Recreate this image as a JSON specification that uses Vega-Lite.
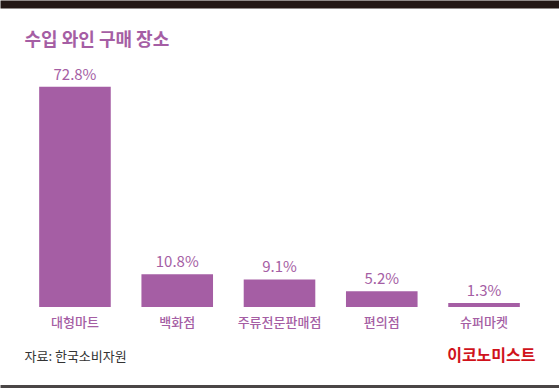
{
  "$schema": "https://vega.github.io/schema/vega-lite/v6.json",
  "width": 559,
  "height": 242,
  "autosize": {"type": "none"},
  "padding": {"top": 65, "left": 0, "right": 0, "bottom": 81},
  "background": "white",
  "config": {
    "view": {"stroke": null},
    "font": "Noto Sans CJK KR"
  },
  "data": {
    "values": [
      {"place": "대형마트", "value": 0.728},
      {"place": "백화점", "value": 0.108},
      {"place": "주류전문판매점", "value": 0.091},
      {"place": "편의점", "value": 0.052},
      {"place": "슈퍼마켓", "value": 0.013}
    ]
  },
  "layer": [
    {
      "mark": {"type": "bar", "color": "#a55ea4"},
      "encoding": {
        "x": {
          "field": "place",
          "type": "nominal",
          "sort": null,
          "scale": {"paddingInner": 0.3, "paddingOuter": 0.383},
          "axis": {
            "orient": "bottom",
            "offset": 79,
            "domain": true,
            "domainColor": "#4a4646",
            "domainWidth": 3,
            "ticks": false,
            "tickSize": 0,
            "grid": false,
            "labelAngle": 0,
            "labelPadding": -70,
            "labelBaseline": "top",
            "labelFont": "Noto Sans CJK KR",
            "labelFontSize": 13,
            "labelFontWeight": 500,
            "labelColor": "#a55ea4",
            "title": "자료: 한국소비자원",
            "titleX": 24,
            "titleY": -29.5,
            "titleAlign": "left",
            "titleBaseline": "middle",
            "titleFont": "Noto Sans CJK KR",
            "titleFontSize": 13,
            "titleFontWeight": "normal",
            "titleColor": "#333333"
          }
        },
        "y": {
          "field": "value",
          "type": "quantitative",
          "scale": {"domain": [0, 0.8], "nice": false},
          "axis": {
            "domain": false,
            "ticks": false,
            "labels": false,
            "grid": false,
            "title": "이코노미스트",
            "titleAngle": 0,
            "titleX": 535,
            "titleY": 290,
            "titleAlign": "right",
            "titleBaseline": "middle",
            "titleFont": "Noto Sans CJK KR",
            "titleFontSize": 16,
            "titleFontWeight": "bold",
            "titleColor": "#d0121b"
          }
        }
      }
    },
    {
      "mark": {
        "type": "text",
        "color": "#a55ea4",
        "baseline": "alphabetic",
        "dy": -7,
        "fontSize": 15,
        "font": "Noto Sans CJK KR"
      },
      "encoding": {
        "x": {
          "field": "place",
          "type": "nominal",
          "sort": null,
          "scale": {"paddingInner": 0.3, "paddingOuter": 0.383},
          "axis": {
            "orient": "top",
            "offset": 61,
            "domain": true,
            "domainColor": "#231815",
            "domainWidth": 8,
            "ticks": false,
            "tickSize": 0,
            "labels": false,
            "grid": false,
            "title": "수입 와인 구매 장소",
            "titleX": 24,
            "titleY": 36,
            "titleAlign": "left",
            "titleBaseline": "middle",
            "titleFont": "Noto Sans CJK KR",
            "titleFontSize": 18,
            "titleFontWeight": "bold",
            "titleColor": "#a55ea4"
          }
        },
        "y": {"field": "value", "type": "quantitative"},
        "text": {"field": "value", "type": "quantitative", "format": ".1%"}
      }
    }
  ],
  "resolve": {"axis": {"x": "independent"}}
}
